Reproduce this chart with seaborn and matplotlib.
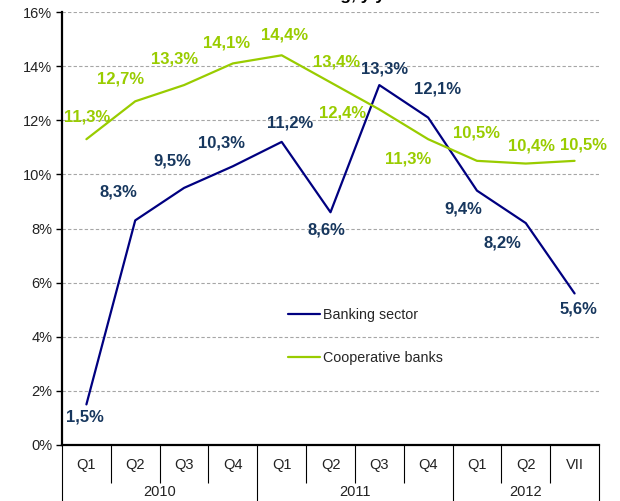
import matplotlib
matplotlib.use("Agg")
import matplotlib.pyplot as plt
import seaborn as sns
import pandas as pd
import numpy as np
from matplotlib.ticker import FixedLocator, NullFormatter

sns.set_style("white")
plt.rcParams['font.family'] = ['Liberation Sans', 'DejaVu Sans']

# ---- data ----
title = "Growth of lending, y/y"
quarters = ["Q1", "Q2", "Q3", "Q4", "Q1", "Q2", "Q3", "Q4", "Q1", "Q2", "VII"]
years = ["2010", "2011", "2012"]
year_counts = [4, 4, 3]
banking = [1.5, 8.3, 9.5, 10.3, 11.2, 8.6, 13.3, 12.1, 9.4, 8.2, 5.6]
cooperative = [11.3, 12.7, 13.3, 14.1, 14.4, 13.4, 12.4, 11.3, 10.5, 10.4, 10.5]
series_names = ["Banking sector", "Cooperative banks"]

# ---- styling ----
line_colors = {"Banking sector": "#000080", "Cooperative banks": "#99CC00"}
label_colors = {"Banking sector": "#17375E", "Cooperative banks": "#99CC00"}
# label offsets in pixels (dx, dy) relative to each point
bank_off = [(-1, -13), (-17, 28), (-12, 27), (-11, 23), (8, 19), (-4, -18), (5, 16), (9, 29), (-14, -18), (-23, -20), (4, -16)]
coop_off = [(1, 22), (-15, 22), (-9, 26), (-6, 20), (3, 20), (6, 20), (-37, -4), (-20, -20), (0, 28), (6, 18), (9, 16)]

n = len(quarters)
x = np.arange(n)
df = pd.DataFrame({
    "x": np.concatenate([x, x]),
    "value": banking + cooperative,
    "series": [series_names[0]] * n + [series_names[1]] * n,
})

fig = plt.figure(figsize=(6.2, 5.01), dpi=100)
ax = fig.add_axes([62 / 620, (501 - 445) / 501, (599 - 62) / 620, (445 - 12) / 501])

sns.lineplot(data=df, x="x", y="value", hue="series", palette=line_colors,
             linewidth=1.6, ax=ax, legend=True)

ax.set_xlim(-0.5, n - 0.5)
ax.set_ylim(0, 16)
ax.set_yticks(np.arange(0, 17, 2))
ax.set_yticklabels([f"{v}%" for v in range(0, 17, 2)], fontsize=10.5, color="#222222")
ax.yaxis.grid(True, linestyle=(0, (3, 2)), color="#A6A6A6", linewidth=0.8)
ax.set_axisbelow(True)
ax.tick_params(axis="y", length=4, width=1, color="black", pad=3, left=True)

for s in ["top", "right"]:
    ax.spines[s].set_visible(False)
ax.spines["left"].set_linewidth(1.6)
ax.spines["left"].set_color("black")
ax.spines["bottom"].set_linewidth(1.6)
ax.spines["bottom"].set_color("black")
ax.set_xlabel("")
ax.set_ylabel("")

# x-axis category separators
bounds = np.arange(n + 1) - 0.5
year_bounds = np.concatenate([[-0.5], np.cumsum(year_counts) - 0.5])
ax.xaxis.set_major_locator(FixedLocator(year_bounds))
ax.xaxis.set_minor_locator(FixedLocator([b for b in bounds if b not in year_bounds]))
ax.xaxis.set_major_formatter(NullFormatter())
ax.tick_params(axis="x", which="major", length=42, width=0.8, color="black", bottom=True)
ax.tick_params(axis="x", which="minor", length=27, width=0.8, color="black", bottom=True)

trans = ax.get_xaxis_transform()
for i, q in enumerate(quarters):
    ax.text(i, -0.047, q, transform=trans, ha="center", va="center", fontsize=10.5, color="#222222")
start = 0
for yname, cnt in zip(years, year_counts):
    ax.text(start + (cnt - 1) / 2, -0.109, yname, transform=trans, ha="center", va="center",
            fontsize=10.5, color="#222222")
    start += cnt

# data labels
for vals, offs, name in [(banking, bank_off, series_names[0]), (cooperative, coop_off, series_names[1])]:
    for i, (v, o) in enumerate(zip(vals, offs)):
        ax.annotate(f"{v:.1f}%".replace(".", ","), (i, v), xytext=o, textcoords="offset pixels",
                    ha="center", va="center", fontsize=12, fontweight="bold",
                    color=label_colors[name])

leg = ax.legend(loc="center left", bbox_to_anchor=(0.42, 0.25), frameon=False,
                fontsize=10.3, handlelength=2.3, handletextpad=0.15, labelspacing=2.0,
                borderaxespad=0, borderpad=0)
for line in leg.get_lines():
    line.set_linewidth(1.6)

# title (cut off at the top edge in the reference)
fig.text(385 / 620, 1.0, title, ha="right", va="baseline", fontsize=12.5,
         fontweight="bold", color="black")

fig.savefig("out.png", dpi=100)
